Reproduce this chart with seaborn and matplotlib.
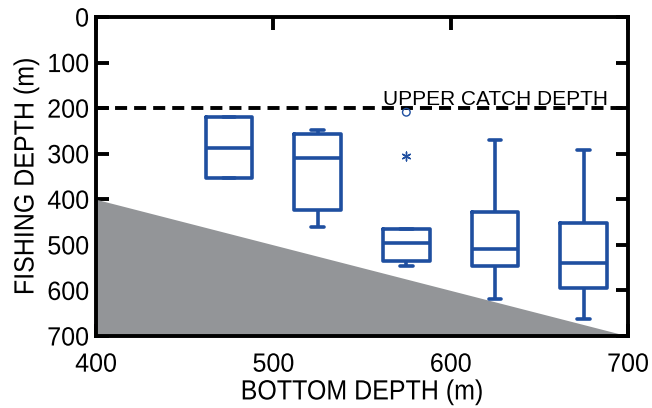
import matplotlib
matplotlib.use("Agg")
import matplotlib.pyplot as plt
from matplotlib.patheffects import AbstractPathEffect
from matplotlib.transforms import Affine2D
import seaborn as sns
import pandas as pd
import numpy as np

# Bottom depth classes (m) and five-number summaries of fishing depth (m)
bottom_depths = [475, 525, 575, 625, 675]
whisker_low = [219, 249, 465, 271, 291]   # shallowest (top whisker)
q1 = [219, 256, 465, 427, 451]
median = [288, 310, 495, 509, 539]
q3 = [354, 423, 535, 546, 594]
whisker_high = [354, 460, 546, 619, 663]  # deepest (bottom whisker)

# Outliers at bottom depth 575
circle_outlier_x = [575]
circle_outlier_y = [209]
star_outlier_x = [575]
star_outlier_y = [306]

upper_catch_depth = 200
x_ticks = [400, 500, 600, 700]
y_ticks = [0, 100, 200, 300, 400, 500, 600, 700]

rows = []
for i, bd in enumerate(bottom_depths):
    for v in (whisker_low[i], q1[i], median[i], q3[i], whisker_high[i]):
        rows.append({"bottom": bd, "fishing": v})
df = pd.DataFrame(rows)


class Squeeze(AbstractPathEffect):
    """Horizontally condense text glyphs (text stays a real Text artist)."""
    def __init__(self, sx=0.9, anchor="center"):
        super().__init__()
        self.sx = sx
        self.anchor = anchor

    def draw_path(self, renderer, gc, tpath, affine, rgbFace=None):
        ext = tpath.get_extents()
        if self.anchor == "right":
            cx = ext.x1
        elif self.anchor == "left":
            cx = ext.x0
        else:
            cx = 0.5 * (ext.x0 + ext.x1)
        t = Affine2D().translate(-cx, 0).scale(self.sx, 1).translate(cx, 0) + affine
        renderer.draw_path(gc, tpath, t, rgbFace)


sns.set_style("ticks")
plt.rcParams["font.family"] = ["Liberation Sans", "DejaVu Sans"]
plt.rcParams["text.color"] = "black"
plt.rcParams["axes.labelcolor"] = "black"
plt.rcParams["xtick.color"] = "black"
plt.rcParams["ytick.color"] = "black"

blue = "#1F4FA0"
fig = plt.figure(figsize=(6.52, 4.08), dpi=100)
ax = fig.add_axes([96 / 652, (408 - 336) / 408, (628 - 96) / 652, (336 - 17) / 408])

# seabed (fishing depth cannot exceed bottom depth)
ax.fill_between([400, 700], [400, 700], [700, 700], color="#939598", lw=0, zorder=1)

sns.boxplot(data=df, x="bottom", y="fishing", native_scale=True, width=0.53,
            fill=False, color=blue, linewidth=2.6, whis=np.inf,
            showfliers=False, capwidths=7, ax=ax, zorder=3)

sns.scatterplot(x=circle_outlier_x, y=circle_outlier_y, marker="o", s=30,
                facecolor="none", edgecolor=blue, linewidth=1.0, ax=ax, zorder=4)
sns.scatterplot(x=star_outlier_x, y=star_outlier_y, marker=(6, 2, 0), s=40,
                color=blue, linewidth=1.0, ax=ax, zorder=4)

ax.axhline(upper_catch_depth, color="black", lw=2.8, dashes=(3.1, 1.8), zorder=2)
ax.text(562, 193, "UPPER CATCH DEPTH", fontsize=15, color="black",
        ha="left", va="baseline", zorder=5)

ax.set_xlim(400, 700)
ax.set_ylim(700, 0)
ax.set_xticks(x_ticks)
ax.set_yticks(y_ticks)
ax.set_xticklabels([str(t) for t in x_ticks])
ax.set_yticklabels([str(t) for t in y_ticks])
ax.set_xlabel("BOTTOM DEPTH (m)", fontsize=20, labelpad=2)
ax.set_ylabel("FISHING DEPTH (m)", fontsize=20, labelpad=4)
ax.tick_params(axis="both", direction="in", length=9, width=2.8, labelsize=19,
               top=True, right=True, labeltop=False, labelright=False, colors="black")
ax.tick_params(axis="x", pad=12)
ax.tick_params(axis="y", pad=5)
for s in ax.spines.values():
    s.set_visible(True)
    s.set_linewidth(2.8)
    s.set_color("black")
    s.set_zorder(6)

ax.xaxis.label.set_path_effects([Squeeze(0.9, "center")])
ax.yaxis.label.set_path_effects([Squeeze(0.9, "center")])
for lab in ax.get_xticklabels():
    lab.set_path_effects([Squeeze(0.95, "center")])
for lab in ax.get_yticklabels():
    lab.set_path_effects([Squeeze(0.95, "right")])

fig.savefig("out.png", dpi=100)
